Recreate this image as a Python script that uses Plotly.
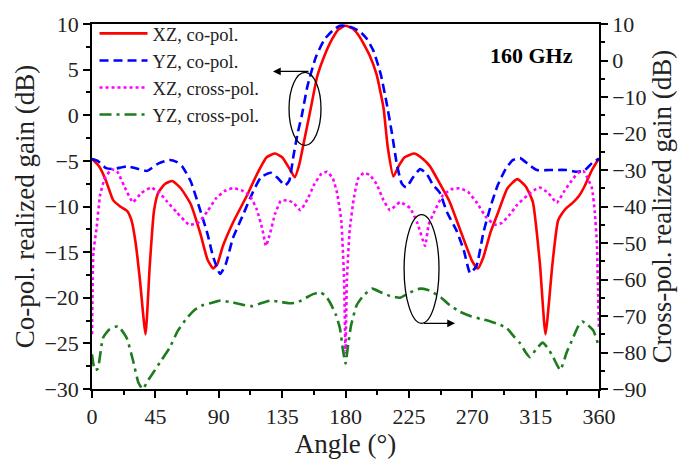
import plotly.graph_objects as go

# ---- data (angles in degrees) ----
xz_co_ang = [0, 5, 10, 15, 20, 25, 28, 31, 34, 38, 41, 44, 47, 52, 57, 63, 70, 77, 82, 86, 89, 93, 100,
             110, 117, 124, 130, 135, 140, 144, 147, 150, 155, 160, 165, 170, 175, 180, 185, 190, 197,
             202, 207, 210, 214, 218, 222, 229, 235, 240, 247, 254, 262, 270, 274, 278, 283, 288, 295,
             302, 308, 313, 318, 322, 327, 331, 336, 342, 346, 350, 355, 360]
xz_co_val = [-4.8, -5.6, -7.2, -9.3, -10.0, -10.5, -11.5, -14.0, -18.0, -24.0, -16.5, -10.5, -8.5, -7.5,
             -7.2, -8.0, -9.7, -13.0, -15.8, -16.8, -16.3, -14.3, -11.8, -8.8, -6.5, -4.6, -4.2, -4.6,
             -5.8, -6.8, -5.5, -3.3, 0.5, 4.3, 6.5, 8.2, 9.4, 9.8, 9.5, 8.6, 6.6, 4.5, 0.8, -3.5, -6.7,
             -5.5, -4.6, -4.2, -4.8, -5.6, -7.5, -9.5, -12.8, -16.0, -16.8, -15.5, -12.8, -10.8, -8.0,
             -7.0, -7.8, -9.5, -16.2, -24.0, -16.2, -11.5, -10.3, -9.5, -8.8, -7.7, -6.0, -4.7]

yz_co_ang = [0, 4, 10, 15, 25, 33, 39, 47, 55, 60, 64, 70, 76, 82, 86, 91, 95, 100, 107, 114, 120, 127,
             132, 137, 140, 143, 146, 149, 153, 159, 165, 171, 176, 180, 185, 190, 195, 200, 205, 209,
             213, 216.5, 220, 223, 228, 233, 238, 242, 247, 252, 259, 264, 268.5, 273, 278, 283, 288,
             294, 299, 304, 310, 316, 325, 337, 345, 350, 356, 360]
yz_co_val = [-4.8, -5.0, -5.8, -5.9, -5.6, -5.9, -6.1, -5.3, -4.9, -5.1, -5.6, -7.2, -10.0, -13.0, -15.5,
             -17.4, -16.3, -13.5, -11.0, -8.5, -6.8, -6.3, -6.9, -7.7, -7.2, -4.5, -2.0, 0.0, 3.2, 6.4,
             8.3, 9.3, 9.8, 9.8, 9.6, 9.2, 8.4, 7.0, 4.5, 1.5, -2.0, -5.4, -7.5, -7.9, -6.8, -5.9, -6.5,
             -7.6, -8.5, -10.6, -12.7, -14.8, -17.3, -16.5, -12.8, -10.0, -7.7, -5.8, -4.9, -4.7, -5.4,
             -6.0, -6.0, -6.0, -6.2, -6.0, -5.1, -4.8]

xz_cross_ang = [0, 1, 3.3, 5.7, 9, 14, 18, 23, 29, 35, 42, 48, 53, 60, 69, 76, 82, 88, 94, 100, 106, 112,
                117, 121, 123.5, 126, 130, 134, 139, 143, 148, 153, 158, 163, 167, 171, 174, 177, 179,
                180, 181, 183, 186, 189, 193, 197, 202, 207, 211.6, 218.7, 226, 231, 236.5, 239, 242,
                249, 255, 261, 267, 273, 280, 286, 291, 296, 302, 309, 314, 318, 324, 330, 335, 339.5,
                345, 349, 352, 355, 357, 358.5, 359.3, 360]
xz_cross_val = [-75, -52.5, -45.8, -37, -32.3, -29.8, -30.5, -34.5, -38.8, -36.3, -34.8, -36.3, -38.5,
                -41.5, -45, -44.3, -41.3, -37.8, -35.8, -35, -35.5, -37, -40.8, -46.3, -50.8, -48, -42,
                -38.5, -38.3, -39, -41, -38, -33.8, -31, -30.5, -32.3, -36.3, -43.8, -60, -80, -60,
                -46.3, -37.5, -32.3, -30.8, -31.3, -33.8, -38.3, -41, -38.8, -40.5, -44.5, -50.8, -45,
                -42.3, -37, -35.3, -35, -36, -38.8, -43, -45, -44.5, -42.5, -39.5, -37, -35.5, -34.8,
                -36.3, -39, -36, -33.5, -30.8, -30.3, -32.3, -35, -41.5, -50, -62.5, -73.8]

yz_cross_ang = [0, 2, 4, 7.8, 12, 18.5, 24.6, 29, 33, 36, 40, 43.5, 49, 55.4, 61, 67.5, 73, 79, 86, 91,
                100, 108, 114, 120, 126.4, 132, 140, 145.6, 152, 157, 162, 166, 169, 173, 176, 178, 180,
                182, 184, 188, 193, 199, 205, 211.6, 218.7, 226, 233, 238, 242, 248, 254, 261, 268.5,
                276, 283, 289, 294.5, 300, 304, 308, 311, 315, 320, 324, 327.5, 332.5, 337, 341.6, 345,
                348, 352, 356, 360]
yz_cross_val = [-80.5, -84.8, -84.5, -76, -73.8, -72.8, -76, -82, -88.3, -90, -87.5, -85.5, -82.3, -78.5,
                -74, -70.5, -68.3, -67, -66.3, -65.8, -66.3, -67, -67.3, -66.5, -65.8, -66, -66.5, -66.3,
                -65, -64, -63.5, -64.5, -66.3, -69.5, -73.3, -78.8, -83, -77.5, -72.5, -67, -64.3, -62.5,
                -63.5, -64.5, -65, -63.5, -62.5, -62.8, -63.5, -65, -67, -68.8, -70, -70.8, -71.5, -72.3,
                -73.3, -75.8, -77.5, -80, -81.3, -79.3, -77.3, -79, -81.3, -84.8, -80, -76, -73, -71.5,
                -72.5, -74, -78.5]

x_ticks = [0, 45, 90, 135, 180, 225, 270, 315, 360]
names = ["XZ, co-pol.", "YZ, co-pol.", "XZ, cross-pol.", "YZ, cross-pol."]

FONT = "Liberation Serif, Times New Roman, serif"

fig = go.Figure()
fig.add_trace(go.Scatter(x=xz_co_ang, y=xz_co_val, name=names[0], mode="lines",
                         line=dict(color="#FF0000", width=2.6, shape="spline", smoothing=0.5)))
fig.add_trace(go.Scatter(x=yz_co_ang, y=yz_co_val, name=names[1], mode="lines",
                         line=dict(color="#0000FF", width=2.6, dash="9px,5px", shape="spline", smoothing=0.5)))
fig.add_trace(go.Scatter(x=xz_cross_ang, y=xz_cross_val, name=names[2], mode="lines", yaxis="y2",
                         line=dict(color="#FF00FF", width=2.6, dash="dot", shape="spline", smoothing=0.4)))
fig.add_trace(go.Scatter(x=yz_cross_ang, y=yz_cross_val, name=names[3], mode="lines", yaxis="y2",
                         line=dict(color="#1E7B1E", width=2.6, dash="12px,5px,3px,5px", shape="spline", smoothing=0.5)))

axis_common = dict(showline=True, linecolor="black", linewidth=1.5, ticks="outside", ticklen=7,
                   tickwidth=1.5, tickcolor="black", showgrid=False, zeroline=False,
                   tickfont=dict(family=FONT, size=22, color="#222"))

fig.update_layout(
    width=700, height=464,
    margin=dict(l=92, r=101, t=13, b=74),
    paper_bgcolor="white", plot_bgcolor="white",
    font=dict(family=FONT, color="#222"),
    xaxis=dict(range=[0, 360], tickvals=x_ticks, mirror=True,
               minor=dict(dtick=22.5, tick0=0, ticks="outside", ticklen=4, tickcolor="black"),
               title=dict(text="Angle (°)", font=dict(family=FONT, size=27), standoff=4),
               **axis_common),
    yaxis=dict(range=[-30, 10], dtick=5, tick0=-30,
               minor=dict(dtick=2.5, ticks="outside", ticklen=4, tickcolor="black"),
               title=dict(text="Co-pol. realized gain (dB)", font=dict(family=FONT, size=27), standoff=2),
               **axis_common),
    yaxis2=dict(range=[-90, 10], dtick=10, tick0=-90, overlaying="y", side="right",
                minor=dict(dtick=5, ticks="outside", ticklen=4, tickcolor="black"),
                title=dict(text="Cross-pol. realized gain (dB)", font=dict(family=FONT, size=27), standoff=2),
                **axis_common),
    legend=dict(x=0.005, y=1.025, xanchor="left", yanchor="top", bgcolor="rgba(0,0,0,0)",
                font=dict(family=FONT, size=18.5, color="#222"), tracegroupgap=0, itemwidth=48),
    showlegend=True,
)

# ellipses + arrows
fig.add_shape(type="circle", xref="x", yref="y", x0=139.9, x1=162.6, y0=-3.3, y1=4.7,
              line=dict(color="black", width=1.3))
fig.add_shape(type="circle", xref="x", yref="y", x0=221.6, x1=246.4, y0=-22.8, y1=-10.9,
              line=dict(color="black", width=1.3))
fig.add_annotation(x=128.5, y=4.8, ax=154.8, ay=4.8, xref="x", yref="y", axref="x", ayref="y",
                   showarrow=True, arrowhead=2, arrowsize=1.2, arrowwidth=1.3, arrowcolor="black", text="")
fig.add_annotation(x=257.8, y=-22.8, ax=234.4, ay=-22.8, xref="x", yref="y", axref="x", ayref="y",
                   showarrow=True, arrowhead=2, arrowsize=1.2, arrowwidth=1.3, arrowcolor="black", text="")
fig.add_annotation(x=0.866, y=0.915, xref="paper", yref="paper", xanchor="center", yanchor="middle",
                   showarrow=False, text="<b>160 GHz</b>", font=dict(family=FONT, size=22, color="black"))

fig.write_html("out.html")
